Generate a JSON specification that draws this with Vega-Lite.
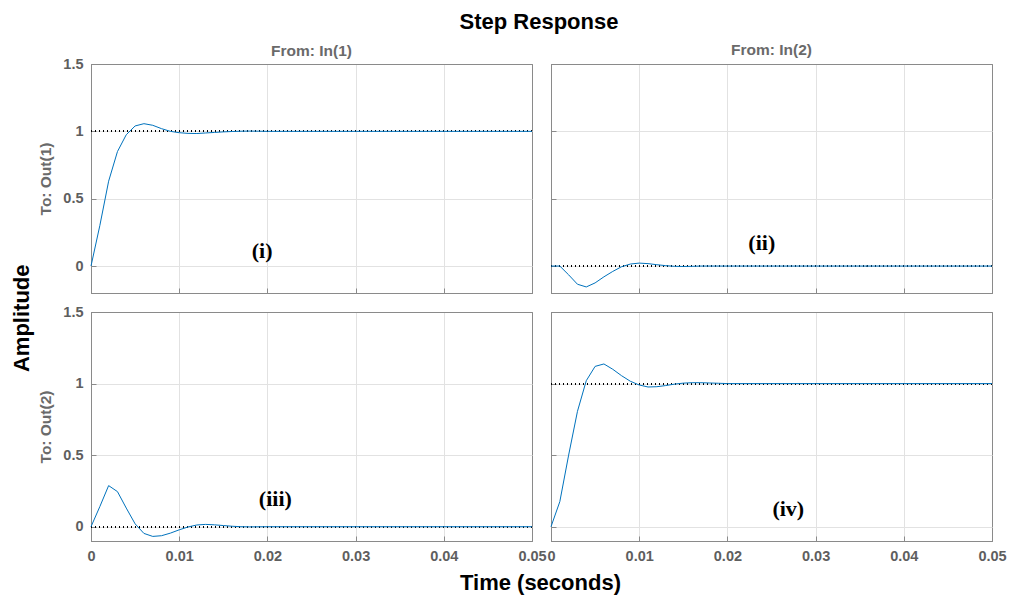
{
  "$schema": "https://vega.github.io/schema/vega-lite/v6.json",
  "background": "white",
  "padding": {"left": 11, "top": 10, "right": 4, "bottom": 4},
  "title": {"text": "Step Response", "font": "Liberation Sans", "fontSize": 22, "fontWeight": "bold", "color": "black", "anchor": "middle", "offset": 9, "dx": 30},
  "datasets": {
    "resp": [
      {"panel": "i", "t": 0, "y": 0}, {"panel": "i", "t": 0.001, "y": 0.3}, {"panel": "i", "t": 0.002, "y": 0.63}, {"panel": "i", "t": 0.003, "y": 0.85}, {"panel": "i", "t": 0.004, "y": 0.975}, {"panel": "i", "t": 0.005, "y": 1.04}, {"panel": "i", "t": 0.006, "y": 1.057}, {"panel": "i", "t": 0.007, "y": 1.045}, {"panel": "i", "t": 0.008, "y": 1.02}, {"panel": "i", "t": 0.009, "y": 1.0}, {"panel": "i", "t": 0.01, "y": 0.99}, {"panel": "i", "t": 0.011, "y": 0.985}, {"panel": "i", "t": 0.012, "y": 0.984}, {"panel": "i", "t": 0.013, "y": 0.988}, {"panel": "i", "t": 0.014, "y": 0.992}, {"panel": "i", "t": 0.015, "y": 0.996}, {"panel": "i", "t": 0.016, "y": 0.999}, {"panel": "i", "t": 0.017, "y": 1.001}, {"panel": "i", "t": 0.018, "y": 1.002}, {"panel": "i", "t": 0.019, "y": 1.001}, {"panel": "i", "t": 0.02, "y": 1.0}, {"panel": "i", "t": 0.03, "y": 1.0}, {"panel": "i", "t": 0.04, "y": 1.0}, {"panel": "i", "t": 0.05, "y": 1.0},
      {"panel": "ii", "t": 0, "y": 0}, {"panel": "ii", "t": 0.001, "y": 0}, {"panel": "ii", "t": 0.002, "y": -0.065}, {"panel": "ii", "t": 0.003, "y": -0.135}, {"panel": "ii", "t": 0.004, "y": -0.155}, {"panel": "ii", "t": 0.005, "y": -0.125}, {"panel": "ii", "t": 0.006, "y": -0.08}, {"panel": "ii", "t": 0.007, "y": -0.04}, {"panel": "ii", "t": 0.008, "y": -0.005}, {"panel": "ii", "t": 0.009, "y": 0.015}, {"panel": "ii", "t": 0.01, "y": 0.022}, {"panel": "ii", "t": 0.011, "y": 0.018}, {"panel": "ii", "t": 0.012, "y": 0.01}, {"panel": "ii", "t": 0.013, "y": 0.003}, {"panel": "ii", "t": 0.014, "y": -0.002}, {"panel": "ii", "t": 0.015, "y": -0.003}, {"panel": "ii", "t": 0.016, "y": -0.002}, {"panel": "ii", "t": 0.017, "y": 0}, {"panel": "ii", "t": 0.02, "y": 0}, {"panel": "ii", "t": 0.03, "y": 0}, {"panel": "ii", "t": 0.04, "y": 0}, {"panel": "ii", "t": 0.05, "y": 0},
      {"panel": "iii", "t": 0, "y": 0}, {"panel": "iii", "t": 0.001, "y": 0.14}, {"panel": "iii", "t": 0.002, "y": 0.287}, {"panel": "iii", "t": 0.003, "y": 0.245}, {"panel": "iii", "t": 0.004, "y": 0.13}, {"panel": "iii", "t": 0.005, "y": 0.02}, {"panel": "iii", "t": 0.006, "y": -0.047}, {"panel": "iii", "t": 0.007, "y": -0.068}, {"panel": "iii", "t": 0.008, "y": -0.063}, {"panel": "iii", "t": 0.009, "y": -0.045}, {"panel": "iii", "t": 0.01, "y": -0.022}, {"panel": "iii", "t": 0.011, "y": -0.002}, {"panel": "iii", "t": 0.012, "y": 0.012}, {"panel": "iii", "t": 0.013, "y": 0.016}, {"panel": "iii", "t": 0.014, "y": 0.013}, {"panel": "iii", "t": 0.015, "y": 0.008}, {"panel": "iii", "t": 0.016, "y": 0.003}, {"panel": "iii", "t": 0.017, "y": 0}, {"panel": "iii", "t": 0.018, "y": -0.001}, {"panel": "iii", "t": 0.02, "y": 0}, {"panel": "iii", "t": 0.03, "y": 0}, {"panel": "iii", "t": 0.04, "y": 0}, {"panel": "iii", "t": 0.05, "y": 0},
      {"panel": "iv", "t": 0, "y": 0}, {"panel": "iv", "t": 0.001, "y": 0.175}, {"panel": "iv", "t": 0.002, "y": 0.5}, {"panel": "iv", "t": 0.003, "y": 0.806}, {"panel": "iv", "t": 0.004, "y": 1.02}, {"panel": "iv", "t": 0.005, "y": 1.12}, {"panel": "iv", "t": 0.006, "y": 1.137}, {"panel": "iv", "t": 0.007, "y": 1.1}, {"panel": "iv", "t": 0.008, "y": 1.055}, {"panel": "iv", "t": 0.009, "y": 1.016}, {"panel": "iv", "t": 0.01, "y": 0.99}, {"panel": "iv", "t": 0.011, "y": 0.976}, {"panel": "iv", "t": 0.012, "y": 0.978}, {"panel": "iv", "t": 0.013, "y": 0.986}, {"panel": "iv", "t": 0.014, "y": 0.996}, {"panel": "iv", "t": 0.015, "y": 1.003}, {"panel": "iv", "t": 0.016, "y": 1.006}, {"panel": "iv", "t": 0.017, "y": 1.006}, {"panel": "iv", "t": 0.018, "y": 1.004}, {"panel": "iv", "t": 0.019, "y": 1.002}, {"panel": "iv", "t": 0.02, "y": 1.0}, {"panel": "iv", "t": 0.03, "y": 1.0}, {"panel": "iv", "t": 0.04, "y": 1.0}, {"panel": "iv", "t": 0.05, "y": 1.0}
    ],
    "labels": [
      {"panel": "i", "t": 0.0194, "y": 0.11, "label": "(i)"},
      {"panel": "ii", "t": 0.0239, "y": 0.17, "label": "(ii)"},
      {"panel": "iii", "t": 0.0209, "y": 0.19, "label": "(iii)"},
      {"panel": "iv", "t": 0.0269, "y": 0.126, "label": "(iv)"}
    ]
  },
  "data": {"name": "resp"},
  "vconcat": [
    {
      "title": {"text": "Amplitude", "orient": "left", "font": "Liberation Sans", "fontSize": 22, "fontWeight": "bold", "color": "black", "anchor": "middle", "offset": 4},
      "vconcat": [
        {
          "title": {"text": "Time (seconds)", "orient": "bottom", "font": "Liberation Sans", "fontSize": 22, "fontWeight": "bold", "color": "black", "anchor": "middle", "offset": 10, "dx": 18},
          "spacing": 9,
          "vconcat": [
            {
              "spacing": 19,
              "bounds": "flush",
              "hconcat": [
                {
                  "width": 441, "height": 229,
                  "title": {"text": "From: In(1)", "font": "Liberation Sans", "fontSize": 15.5, "fontWeight": "bold", "color": "#6a6a6a", "offset": -3},
                  "layer": [
                    {"mark": {"type": "rule", "color": "black", "strokeWidth": 1, "strokeDash": [1, 3]}, "encoding": {"y": {"datum": 1, "type": "quantitative"}}},
                    {"transform": [{"filter": "datum.panel === 'i'"}], "mark": {"type": "line", "color": "#0072BD", "strokeWidth": 1},
                     "encoding": {
                       "x": {"field": "t", "type": "quantitative", "scale": {"domain": [0, 0.05], "nice": false}, "axis": {"title": null, "labels": false, "values": [0, 0.01, 0.02, 0.03, 0.04, 0.05]}},
                       "y": {"field": "y", "type": "quantitative", "scale": {"domain": [-0.2, 1.5], "nice": false, "zero": false}, "axis": {"title": "To: Out(1)", "values": [0, 0.5, 1, 1.5], "format": "~g"}}
                     }},
                    {"data": {"name": "labels"}, "transform": [{"filter": "datum.panel === 'i'"}], "mark": {"type": "text", "font": "Liberation Serif", "fontWeight": "bold", "fontSize": 22, "color": "black"},
                     "encoding": {"x": {"field": "t", "type": "quantitative"}, "y": {"field": "y", "type": "quantitative"}, "text": {"field": "label"}}}
                  ]
                },
                {
                  "width": 441, "height": 229,
                  "title": {"text": "From: In(2)", "font": "Liberation Sans", "fontSize": 15.5, "fontWeight": "bold", "color": "#6a6a6a", "offset": 5},
                  "layer": [
                    {"mark": {"type": "rule", "color": "black", "strokeWidth": 1, "strokeDash": [1, 3]}, "encoding": {"y": {"datum": 0, "type": "quantitative"}}},
                    {"transform": [{"filter": "datum.panel === 'ii'"}], "mark": {"type": "line", "color": "#0072BD", "strokeWidth": 1},
                     "encoding": {
                       "x": {"field": "t", "type": "quantitative", "scale": {"domain": [0, 0.05], "nice": false}, "axis": {"title": null, "labels": false, "values": [0, 0.01, 0.02, 0.03, 0.04, 0.05]}},
                       "y": {"field": "y", "type": "quantitative", "scale": {"domain": [-0.2, 1.5], "nice": false, "zero": false}, "axis": {"title": null, "labels": false, "values": [0, 0.5, 1, 1.5]}}
                     }},
                    {"data": {"name": "labels"}, "transform": [{"filter": "datum.panel === 'ii'"}], "mark": {"type": "text", "font": "Liberation Serif", "fontWeight": "bold", "fontSize": 22, "color": "black"},
                     "encoding": {"x": {"field": "t", "type": "quantitative"}, "y": {"field": "y", "type": "quantitative"}, "text": {"field": "label"}}}
                  ]
                }
              ]
            },
            {
              "spacing": 19,
              "bounds": "flush",
              "hconcat": [
                {
                  "width": 441, "height": 229,
                  "layer": [
                    {"mark": {"type": "rule", "color": "black", "strokeWidth": 1, "strokeDash": [1, 3]}, "encoding": {"y": {"datum": 0, "type": "quantitative"}}},
                    {"transform": [{"filter": "datum.panel === 'iii'"}], "mark": {"type": "line", "color": "#0072BD", "strokeWidth": 1},
                     "encoding": {
                       "x": {"field": "t", "type": "quantitative", "scale": {"domain": [0, 0.05], "nice": false}, "axis": {"title": null, "values": [0, 0.01, 0.02, 0.03, 0.04, 0.05], "format": "~g"}},
                       "y": {"field": "y", "type": "quantitative", "scale": {"domain": [-0.1, 1.5], "nice": false, "zero": false}, "axis": {"title": "To: Out(2)", "values": [0, 0.5, 1, 1.5], "format": "~g"}}
                     }},
                    {"data": {"name": "labels"}, "transform": [{"filter": "datum.panel === 'iii'"}], "mark": {"type": "text", "font": "Liberation Serif", "fontWeight": "bold", "fontSize": 22, "color": "black"},
                     "encoding": {"x": {"field": "t", "type": "quantitative"}, "y": {"field": "y", "type": "quantitative"}, "text": {"field": "label"}}}
                  ]
                },
                {
                  "width": 441, "height": 229,
                  "layer": [
                    {"mark": {"type": "rule", "color": "black", "strokeWidth": 1, "strokeDash": [1, 3]}, "encoding": {"y": {"datum": 1, "type": "quantitative"}}},
                    {"transform": [{"filter": "datum.panel === 'iv'"}], "mark": {"type": "line", "color": "#0072BD", "strokeWidth": 1},
                     "encoding": {
                       "x": {"field": "t", "type": "quantitative", "scale": {"domain": [0, 0.05], "nice": false}, "axis": {"title": null, "values": [0, 0.01, 0.02, 0.03, 0.04, 0.05], "format": "~g"}},
                       "y": {"field": "y", "type": "quantitative", "scale": {"domain": [-0.1, 1.5], "nice": false, "zero": false}, "axis": {"title": null, "labels": false, "values": [0, 0.5, 1, 1.5]}}
                     }},
                    {"data": {"name": "labels"}, "transform": [{"filter": "datum.panel === 'iv'"}], "mark": {"type": "text", "font": "Liberation Serif", "fontWeight": "bold", "fontSize": 22, "color": "black"},
                     "encoding": {"x": {"field": "t", "type": "quantitative"}, "y": {"field": "y", "type": "quantitative"}, "text": {"field": "label"}}}
                  ]
                }
              ]
            }
          ]
        }
      ]
    }
  ],
  "config": {
    "view": {"stroke": "#8a8a8a", "strokeWidth": 1},
    "axis": {
      "domain": true, "domainColor": "#8a8a8a", "domainWidth": 1,
      "grid": true, "gridWidth": 1,
      "ticks": true, "tickColor": "#8a8a8a", "tickSize": -5, "minExtent": 0,
      "labelFont": "Liberation Sans", "labelFontWeight": "bold", "labelFontSize": 14.5, "labelColor": "#5e5e5e", "labelPadding": 13,
      "labelFlush": false, "labelOverlap": false,
      "titleFont": "Liberation Sans", "titleFontWeight": "bold", "titleFontSize": 15.5, "titleColor": "#6a6a6a", "titlePadding": 9
    },
    "axisX": {"gridColor": {"condition": {"test": "datum.value <= 0 || datum.value >= 0.05", "value": "#8a8a8a"}, "value": "#e2e2e2"}},
    "axisY": {"gridColor": {"condition": {"test": "datum.value >= 1.5", "value": "#8a8a8a"}, "value": "#e2e2e2"}}
  }
}
